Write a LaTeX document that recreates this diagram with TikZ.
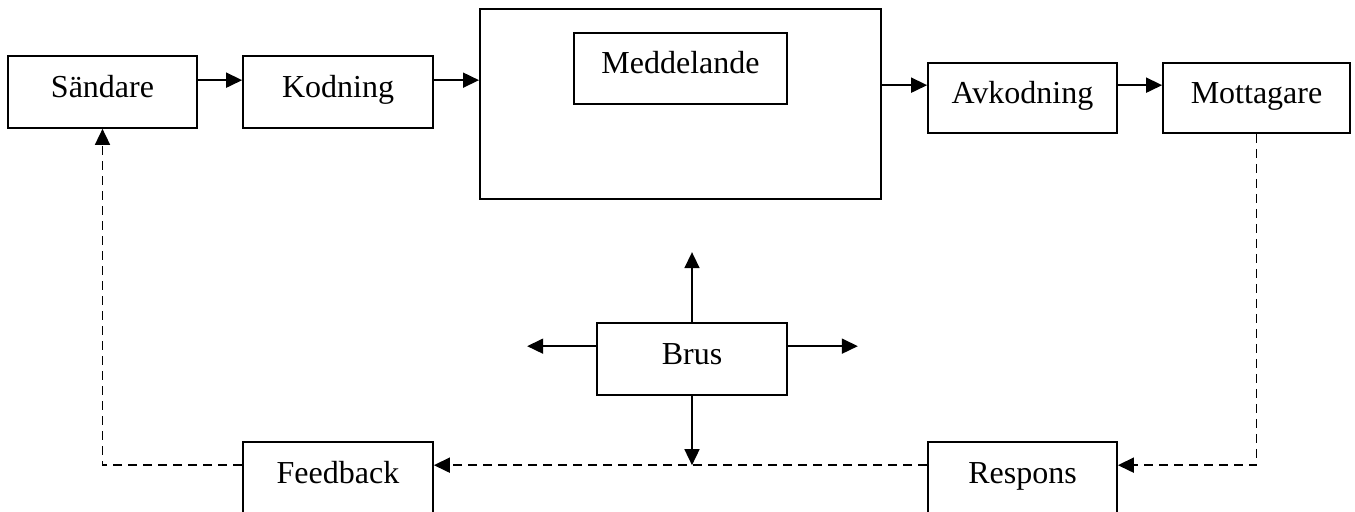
\documentclass[tikz,border=0pt]{standalone}
\usepackage{fontspec}
\setmainfont{Liberation Serif}
\usetikzlibrary{arrows.meta,calc}
\tikzset{
 box/.style={draw, line width=0.85pt, inner sep=0pt},
 lbl/.style={anchor=base, inner sep=0pt, font=\fontsize{16}{19}\selectfont},
 arr/.style={line width=0.85pt, -{Triangle[length=8pt,width=7.5pt]}},
 darr/.style={arr, dash pattern=on 4.5pt off 3pt},
}
\begin{document}
\begin{tikzpicture}[x=0.5pt,y=-0.5pt]
\clip (0,0) rectangle (1355,511);
\path[fill=white] (0,0) rectangle (1355,511);
% boxes
\node[box, minimum width=94.5pt, minimum height=36pt] (S) at (102.5,92) {};
\node[box, minimum width=95pt, minimum height=36pt] (K) at (338,92) {};
\node[box, line width=1pt, minimum width=200.5pt, minimum height=95pt] (Big) at (680.5,104) {};
\node[box, minimum width=106.5pt, minimum height=35.5pt] (M) at (680.5,68.5) {};
\node[box, minimum width=94.5pt, minimum height=35pt] (A) at (1022.5,98) {};
\node[box, minimum width=93.5pt, minimum height=35pt] (Mo) at (1256.5,98) {};
\node[box, minimum width=95pt, minimum height=36pt] (B) at (692,359) {};
\node[box, minimum width=95pt, minimum height=36pt] (F) at (338,478) {};
\node[box, minimum width=94.5pt, minimum height=36pt] (R) at (1022.5,478) {};
% labels
\node[lbl] (tS) at (102.5,97) {Sändare};
\node[lbl] (tK) at (338,97) {Kodning};
\node[lbl] (tM) at (680.5,73) {Meddelande};
\node[lbl] (tA) at (1022.5,103) {Avkodning};
\node[lbl] (tMo) at (1256.5,103) {Mottagare};
\node[lbl] (tB) at (692,364) {Brus};
\node[lbl] (tF) at (338,483) {Feedback};
\node[lbl] (tR) at (1022.5,483) {Respons};
% solid connectors
\coordinate (s1) at ($(S.north east)+(0,25)$);
\draw[arr] (s1) -- (s1 -| K.west);
\coordinate (k1) at ($(K.north east)+(0,25)$);
\draw[arr] (k1) -- (k1 -| Big.west);
\coordinate (a1) at ($(A.north west)+(0,23)$);
\draw[arr] (a1 -| Big.east) -- (a1);
\coordinate (a2) at ($(A.north east)+(0,23)$);
\draw[arr] (a2) -- (a2 -| Mo.west);
% dashed feedback loop
\coordinate (r1) at ($(R.north east)+(0,24)$);
\coordinate (f1) at ($(F.north east)+(0,24)$);
\draw[darr] (Mo.south) |- (r1);
\draw[darr] (r1 -| R.west) -- (f1);
\draw[darr] (f1 -| F.west) -| (S.south);
% noise arrows
\coordinate (b1) at ($(B.north west)+(0,24)$);
\coordinate (b2) at ($(B.north east)+(0,24)$);
\draw[arr] (B.north) -- ++(0,-70);
\draw[arr] (b1) -- ++(-69,0);
\draw[arr] (b2) -- ++(70,0);
\draw[arr] (B.south) -- (B.south |- f1);
\end{tikzpicture}
\end{document}
